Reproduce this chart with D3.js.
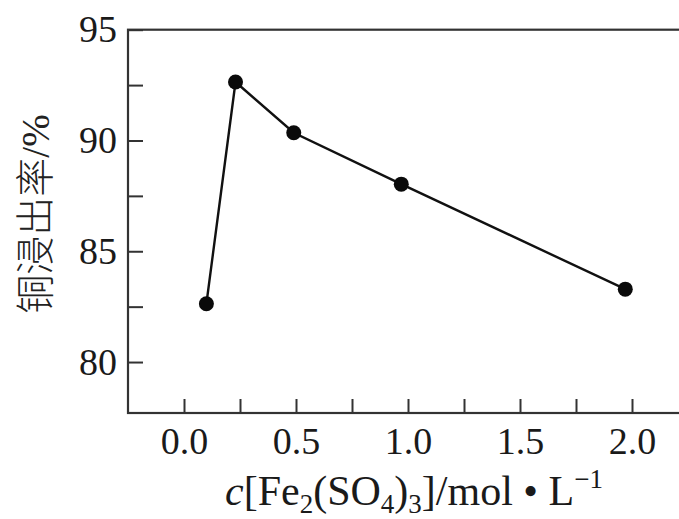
<!DOCTYPE html>
<html>
<head>
<meta charset="utf-8">
<script src="https://cdn.jsdelivr.net/npm/d3@7"></script>
<style>
  body { margin: 0; background: #fff; }
  svg { display: block; }
  .tick text { font-family: "Liberation Serif", "Times New Roman", serif; fill: #1a1a1a; }
</style>
</head>
<body>
<div id="wrapper"></div>
<script>
// data
const concentration = [0.10, 0.23, 0.49, 0.97, 1.97]
const leachRate = [82.63, 92.64, 90.35, 88.03, 83.29]
const xTicks = [0, 0.25, 0.5, 0.75, 1.0, 1.25, 1.5, 1.75, 2.0]
const xLabels = [0, 0.5, 1.0, 1.5, 2.0]
const yTicks = [80, 82.5, 85, 87.5, 90, 92.5, 95]
const yLabels = [80, 85, 90, 95]

const width = 679, height = 519
const axisColor = '#333'

const svg = d3.select('#wrapper')
    .append('svg')
    .attr('width', width)
    .attr('height', height)

const x = d3.scaleLinear().domain([-0.25, 2.25]).range([128, 688])
const y = d3.scaleLinear().domain([77.7, 95]).range([413, 29.7])

// frame
svg.append('rect')
    .attr('x', x(-0.25))
    .attr('y', y(95))
    .attr('width', x(2.25) - x(-0.25))
    .attr('height', y(77.7) - y(95))
    .attr('fill', 'none')
    .attr('stroke', axisColor)
    .attr('stroke-width', 2.2)

// y axis
const yAxis = svg.append('g')
    .attr('transform', `translate(${x(-0.25)},0)`)
    .call(d3.axisLeft(y)
        .tickValues(yTicks)
        .tickSizeInner(-15)
        .tickSizeOuter(0)
        .tickPadding(11)
        .tickFormat(d => yLabels.includes(d) ? d3.format('d')(d) : ''))
yAxis.select('.domain').remove()
yAxis.selectAll('.tick line').attr('stroke', axisColor).attr('stroke-width', 2)
yAxis.selectAll('.tick text').style('font-size', '38px')

// x axis
const xAxis = svg.append('g')
    .attr('transform', `translate(0,${y(77.7)})`)
    .call(d3.axisBottom(x)
        .tickValues(xTicks)
        .tickSizeInner(-14)
        .tickSizeOuter(0)
        .tickPadding(14)
        .tickFormat(d => xLabels.includes(d) ? d3.format('.1f')(d) : ''))
xAxis.select('.domain').remove()
xAxis.selectAll('.tick line').attr('stroke', axisColor).attr('stroke-width', 2)
xAxis.selectAll('.tick text').style('font-size', '38px')

// line + points
const points = concentration.map((c, i) => [c, leachRate[i]])

svg.append('path')
    .datum(points)
    .attr('fill', 'none')
    .attr('stroke', '#111')
    .attr('stroke-width', 2.4)
    .attr('d', d3.line().x(d => x(d[0])).y(d => y(d[1])))

svg.selectAll('.point')
    .data(points)
    .enter().append('circle')
    .attr('class', 'point')
    .attr('cx', d => x(d[0]))
    .attr('cy', d => y(d[1]))
    .attr('r', 7.5)
    .attr('fill', '#0a0a0a')

// y label
const yLabel = svg.append('text')
    .attr('transform', 'translate(49,214) rotate(-90)')
    .attr('text-anchor', 'middle')
    .attr('fill', '#222')
yLabel.append('tspan')
    .style('font-family', '"Noto Sans CJK SC", sans-serif')
    .style('font-size', '39px')
    .style('font-weight', 300)
    .text('铜浸出率')
yLabel.append('tspan')
    .style('font-family', '"Liberation Serif", serif')
    .style('font-size', '39px')
    .text('/%')

// x label
const xLabel = svg.append('text')
    .attr('x', 225)
    .attr('y', 505)
    .attr('fill', '#1a1a1a')
    .style('font-family', '"Liberation Serif", serif')
    .style('font-size', '42px')
xLabel.append('tspan').style('font-style', 'italic').text('c')
xLabel.append('tspan').text('[Fe')
xLabel.append('tspan').attr('dy', 8).style('font-size', '27px').text('2')
xLabel.append('tspan').attr('dy', -8).text('(SO')
xLabel.append('tspan').attr('dy', 8).style('font-size', '27px').text('4')
xLabel.append('tspan').attr('dy', -8).text(')')
xLabel.append('tspan').attr('dy', 8).style('font-size', '27px').text('3')
xLabel.append('tspan').attr('dy', -8).text(']/mol \u2022 L')
xLabel.append('tspan').attr('dy', -17).style('font-size', '27px').text('\u22121')
</script>
</body>
</html>
